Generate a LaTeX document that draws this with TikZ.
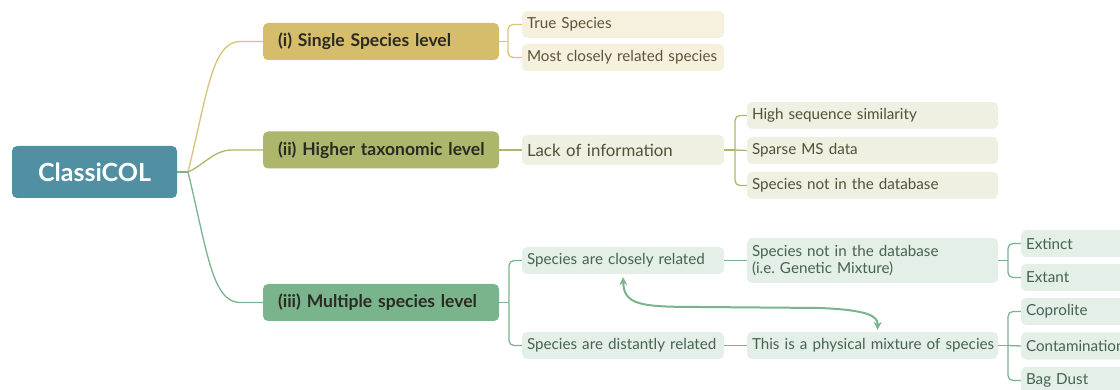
\documentclass[tikz,border=0pt]{standalone}
\usepackage{fontspec}
\setmainfont{Lato}
\usetikzlibrary{arrows.meta}
\definecolor{rootc}{HTML}{5090A2}
\definecolor{ca}{HTML}{D5BD6B}
\definecolor{cb}{HTML}{AEB66B}
\definecolor{cc}{HTML}{79B48D}
\definecolor{la}{HTML}{D9C27A}
\definecolor{fa}{HTML}{F6F1DE}
\definecolor{fb}{HTML}{F0F0E2}
\definecolor{fc}{HTML}{E4EFE7}
\definecolor{ta}{HTML}{5C5436}
\definecolor{tb}{HTML}{4F5236}
\definecolor{tc}{HTML}{456350}
\definecolor{tl}{HTML}{2B2A22}
\tikzset{
  rootbox/.style={fill=rootc, rounded corners=5pt, text=white, minimum width=165pt, minimum height=52pt, inner sep=0pt, font=\fontsize{25}{28}\selectfont\bfseries},
  lonebox/.style={rounded corners=5pt, text=tl, minimum height=37pt, inner ysep=0pt, inner xsep=15pt, text width=206pt, align=left, font=\fontsize{17.5}{20}\selectfont\bfseries},
  ltwobox/.style={rounded corners=5pt, minimum height=27pt, inner ysep=0pt, inner xsep=5pt, align=left, font=\fontsize{15.2}{17}\selectfont},
  ca box/.style={ltwobox, fill=fa, text=ta},
  cb box/.style={ltwobox, fill=fb, text=tb},
  cc box/.style={ltwobox, fill=fc, text=tc},
  lna/.style={draw=la, line width=1.3pt},
  lnb/.style={draw=cb, line width=1.3pt},
  lnc/.style={draw=cc, line width=1.3pt},
  brk/.style={rounded corners=5pt},
  dbl/.style={draw=cc, line width=2pt, {Stealth[length=8pt,width=8pt]}-{Stealth[length=8pt,width=8pt]}}
}
\begin{document}
\frenchspacing
\begin{tikzpicture}[x=1pt,y=-1pt]
\useasboundingbox (0,0) rectangle (1120,390);
% root and level 1
\node[rootbox] (root) at (94.5,172) {ClassiCOL};
\node[lonebox, fill=ca] (i) at (381,41.5) {\mbox{(i) Single Species level}};
\node[lonebox, fill=cb] (ii) at (381,150) {\mbox{(ii) Higher taxonomic level}};
\node[lonebox, fill=cc] (iii) at (381,302.5) {\mbox{(iii) Multiple species level}};
% level 2
\node[ca box, text width=192pt] (ts) at (623,24.5) {True Species};
\node[ca box, text width=192pt] (mc) at (623,57.5) {\mbox{Most closely related species}};
\node[cb box, text width=192pt, minimum height=30pt, font=\fontsize{16.8}{19}\selectfont] (lack) at (623,150) {Lack of information};
\node[cc box, text width=192pt] (csr) at (623,260.5) {Species are closely related};
\node[cc box, text width=192pt] (dr) at (623,345.5) {\mbox{Species are distantly related}};
% level 3
\node[cb box, text width=241pt] (hs) at (872.5,115.5) {High sequence similarity};
\node[cb box, text width=241pt] (sp) at (872.5,150.5) {Sparse MS data};
\node[cb box, text width=241pt] (sn) at (872.5,185.5) {Species not in the database};
\node[cc box, text width=241pt, minimum height=45pt] (gm) at (872.5,260.5) {Species not in the database\\(i.e. Genetic Mixture)};
\node[cc box, text width=241pt] (pm) at (872.5,345.5) {\mbox{This is a physical mixture of species}};
% level 4
\node[cc box, text width=110pt] (ex1) at (1081,243.5) {Extinct};
\node[cc box, text width=110pt] (ex2) at (1081,277.5) {Extant};
\node[cc box, text width=110pt] (cop) at (1081,311.5) {Coprolite};
\node[cc box, text width=110pt] (con) at (1081,346) {Contamination};
\node[cc box, text width=110pt] (bag) at (1081,380.5) {Bag Dust};
% junction coordinates
\coordinate (jr) at (188,172);
\coordinate (ja) at (508,41.5);
\coordinate (jb) at (735,150);
\coordinate (jc) at (509,302.5);
\coordinate (jd) at (1008,260.5);
\coordinate (je) at (1008,345.5);
% root connectors
\draw[lnc] (root.east) -- (jr);
\draw[lna] (jr) .. controls (207,95) and (212,41.5) .. (240,41.5) -- (i.west);
\draw[lnb] (jr) .. controls (204,165) and (214,150) .. (232,150) -- (ii.west);
\draw[lnc] (jr) .. controls (207,250) and (212,302.5) .. (240,302.5) -- (iii.west);
% (i)
\draw[lna] (i.east) -- (ja);
\draw[lna, brk] (ja) |- (ts.west);
\draw[lna, brk] (ja) |- (mc.west);
% (ii)
\draw[lnb] (ii.east) -- (lack.west);
\draw[lnb] (lack.east) -- (jb);
\draw[lnb, brk] (jb) |- (hs.west);
\draw[lnb] (jb) -- (sp.west);
\draw[lnb, brk] (jb) |- (sn.west);
% (iii)
\draw[lnc] (iii.east) -- (jc);
\draw[lnc, brk] (jc) |- (csr.west);
\draw[lnc, brk] (jc) |- (dr.west);
\draw[lnc] (csr.east) -- (gm.west);
\draw[lnc] (dr.east) -- (pm.west);
\draw[lnc] (gm.east) -- (jd);
\draw[lnc, brk] (jd) |- (ex1.west);
\draw[lnc, brk] (jd) |- (ex2.west);
\draw[lnc] (pm.east) -- (je);
\draw[lnc, brk] (je) |- (cop.west);
\draw[lnc] (je) -- (con.west);
\draw[lnc, brk] (je) |- (bag.west);
% double arrow
\coordinate (as) at ([yshift=-3pt]csr.south);
\coordinate (ae) at ([xshift=5pt,yshift=2pt]pm.north);
\draw[dbl] (as) .. controls (624,305) and (640,307) .. (700,307) -- (820,308) .. controls (868,310) and (878,316) .. (ae);
\end{tikzpicture}
\end{document}
